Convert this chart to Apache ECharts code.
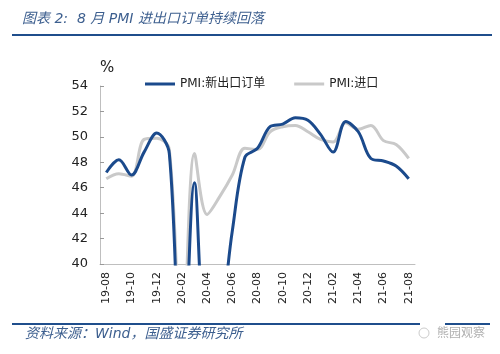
<!DOCTYPE html>
<html><head><meta charset="utf-8">
<script src="https://cdn.jsdelivr.net/npm/echarts@6/dist/echarts.min.js"></script>
<style>html,body{margin:0;padding:0;background:#fff}#c{width:500px;height:354px}</style>
</head><body><div id="c"></div>
<script>
var categories = ['19-08','19-09','19-10','19-11','19-12','20-01','20-02','20-03','20-04','20-05','20-06','20-07','20-08','20-09','20-10','20-11','20-12','21-01','21-02','21-03','21-04','21-05','21-06','21-07','21-08'];
var exportOrders = [47.2,48.2,47.0,48.8,50.3,48.7,28.7,46.4,33.5,35.3,42.6,48.4,49.1,50.8,51.0,51.5,51.3,50.2,48.8,51.2,50.4,48.3,48.1,47.7,46.7];
var imports = [46.7,47.1,46.9,49.8,49.9,49.0,31.9,48.7,43.9,45.3,47.0,49.1,49.0,50.4,50.8,50.9,50.4,49.8,49.6,51.1,50.6,50.9,49.7,49.4,48.3];
var seriesNames = ['PMI:新出口订单','PMI:进口'];
var yTicks = {min:40, max:54, interval:2};
var titleText = '图表 2:  8 月 PMI 进出口订单持续回落';
var sourceText = '资料来源：Wind，国盛证券研究所';
var watermark = '熊园观察';

var FONT = 'DejaVu Sans, Noto Sans CJK SC, sans-serif';
var chart = echarts.init(document.getElementById('c'), null, {renderer:'canvas'});
chart.setOption({
  backgroundColor:'#fff',
  animation:false,
  grid:{left:100, right:85, top:86, bottom:90},
  legend:{
    left:140, top:73, icon:'rect', itemWidth:30, itemHeight:3, itemGap:29,
    textStyle:{fontFamily:FONT, fontSize:12, color:'#222'},
    data:seriesNames
  },
  xAxis:{
    type:'category', data:categories, boundaryGap:true,
    axisLine:{lineStyle:{color:'#bfbfbf', width:1}},
    axisTick:{inside:true, length:4, interval:1, lineStyle:{color:'#999'}},
    axisLabel:{interval:1, rotate:90, fontFamily:FONT, fontSize:11, color:'#222', margin:8}
  },
  yAxis:{
    type:'value', min:yTicks.min, max:yTicks.max, interval:yTicks.interval,
    axisLine:{show:true, lineStyle:{color:'#bfbfbf', width:1}},
    axisTick:{show:true, inside:true, length:4, lineStyle:{color:'#999'}},
    splitLine:{show:false},
    axisLabel:{fontFamily:FONT, fontSize:13, color:'#222', margin:12}
  },
  series:[
    {name:seriesNames[0], type:'line', data:exportOrders, smooth:0.35, symbol:'none', clip:true,
     lineStyle:{color:'#1b4a8c', width:3}, itemStyle:{color:'#1b4a8c'}, z:3},
    {name:seriesNames[1], type:'line', data:imports, smooth:0.35, symbol:'none', clip:true,
     lineStyle:{color:'#c9c9c9', width:3}, itemStyle:{color:'#c9c9c9'}, z:2}
  ],
  graphic:[
    {type:'text', left:22, top:12, style:{text:titleText, font:'italic 14px '+FONT, fill:'#3d5f8f'}},
    {type:'line', shape:{x1:12, y1:35, x2:492, y2:35}, style:{stroke:'#1f4e8c', lineWidth:2}},
    {type:'text', left:100, top:61, style:{text:'%', font:'15px '+FONT, fill:'#222'}},
    {type:'line', shape:{x1:12, y1:324, x2:420, y2:324}, style:{stroke:'#1f4e8c', lineWidth:2}},
    {type:'line', shape:{x1:445, y1:324, x2:490, y2:324}, style:{stroke:'#1f4e8c', lineWidth:2}},
    {type:'text', left:25, top:327, style:{text:sourceText, font:'italic 14px '+FONT, fill:'#3d5f8f'}},
    {type:'circle', shape:{cx:424, cy:333, r:5}, style:{fill:'none', stroke:'#ccc', lineWidth:1}},
    {type:'text', left:437, top:326, style:{text:watermark, font:'12px Noto Sans CJK SC', fill:'#b0b0b0'}}
  ]
});
</script></body></html>
